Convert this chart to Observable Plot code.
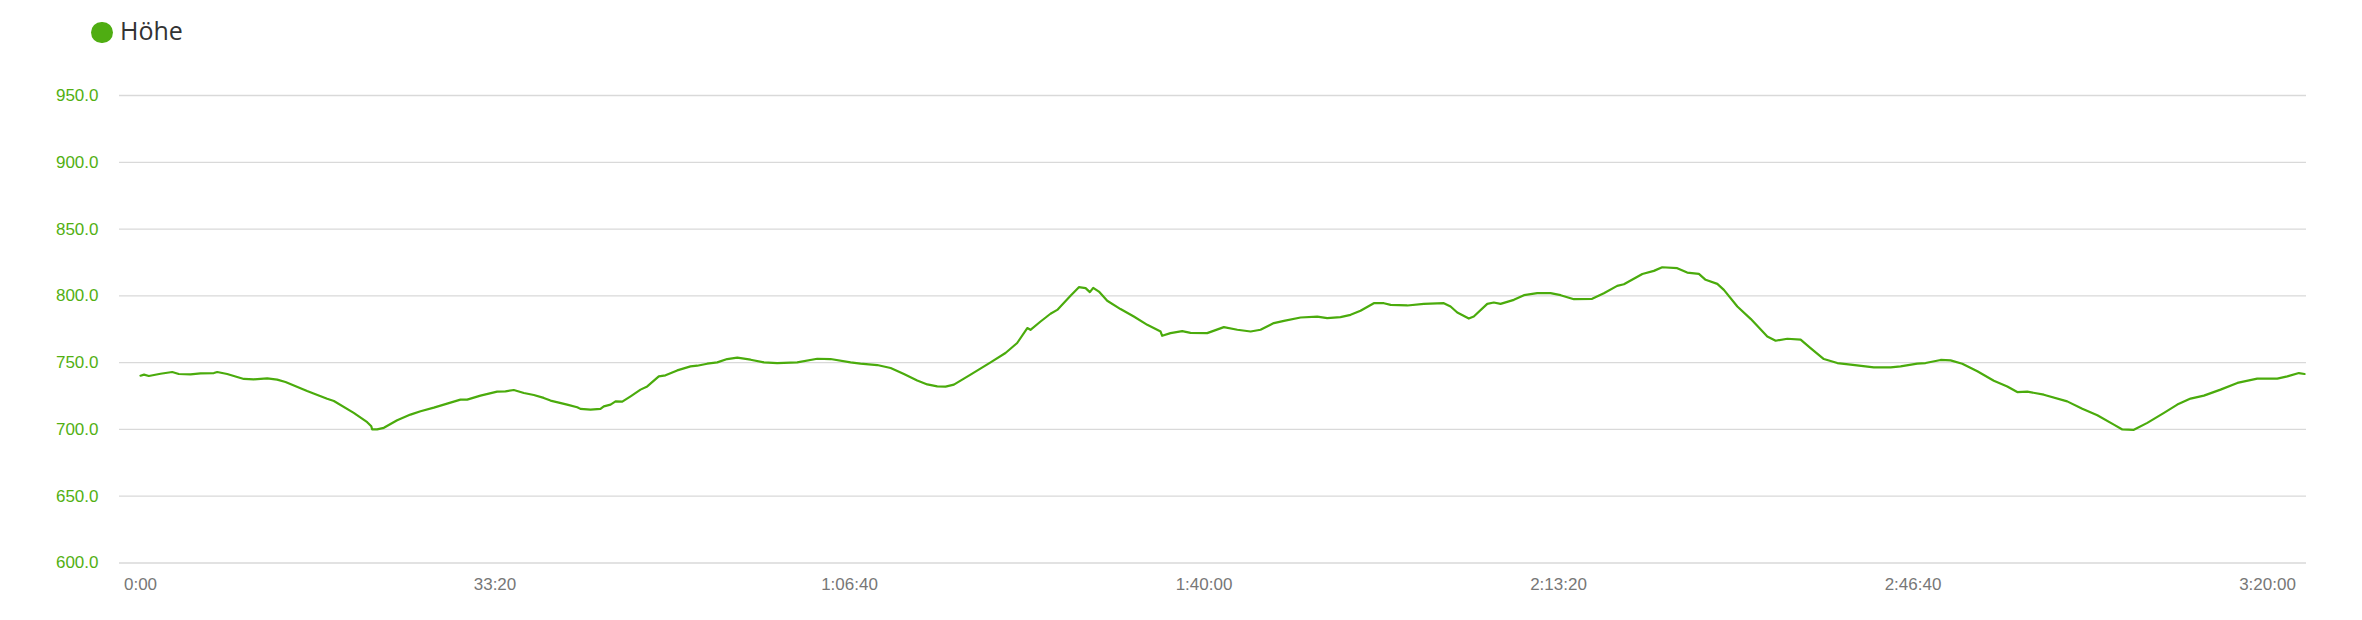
<!DOCTYPE html>
<html>
<head>
<meta charset="utf-8">
<script src="https://cdn.jsdelivr.net/npm/d3@7"></script>
<script src="https://cdn.jsdelivr.net/npm/@observablehq/plot@0.6"></script>
<style>
  html, body { margin: 0; padding: 0; background: #fff; }
  body { width: 2362px; height: 620px; overflow: hidden; }
  #legend { position: relative; height: 60px; }
  #legend .dot { position: absolute; left: 91px; top: 21.5px; width: 21.6px; height: 21.6px; border-radius: 50%; background: #4fad12; }
  #legend .lab { position: absolute; left: 120px; top: 12px; font-family: "Open Sans", sans-serif; font-size: 25px; line-height: 36px; color: #333; }
</style>
</head>
<body>
<div id="legend"><span class="dot"></span><span class="lab">Höhe</span></div>
<div id="chart"></div>
<script>
// elapsed time in seconds
const times = [0,20,47,113,179,216,282,339,414,433,489,583,639,715,771,818,940,1053,1091,1203,1279,1302,1307,1335,1373,1448,1523,1580,1655,1730,1805,1843,1918,2012,2059,2106,2163,2219,2275,2313,2407,2464,2482,2539,2595,2614,2652,2680,2718,2765,2821,2859,2924,2962,3028,3103,3141,3197,3254,3310,3367,3442,3517,3592,3705,3818,3893,4006,4062,4156,4232,4307,4382,4439,4495,4542,4589,4683,4796,4880,4946,5003,5021,5078,5134,5172,5247,5294,5332,5356,5375,5407,5454,5529,5604,5680,5755,5764,5811,5877,5924,6018,6112,6188,6263,6319,6394,6451,6545,6639,6695,6770,6827,6883,6958,7015,7053,7147,7240,7353,7391,7429,7494,7522,7598,7635,7673,7748,7805,7880,7955,8012,8087,8190,8256,8331,8369,8473,8538,8585,8670,8726,8792,8830,8896,8933,9009,9084,9178,9225,9291,9366,9422,9497,9573,9648,9779,9874,9930,10024,10071,10156,10212,10278,10363,10456,10532,10588,10645,10738,10870,10955,11040,11133,11181,11246,11322,11416,11491,11566,11641,11735,11830,11942,12055,12112,12177,12209];
// elevation in metres
const elevations = [740.2,741,740,741.7,743,741.5,741.2,742,742.2,743,741.5,737.8,737.5,738.2,737.3,735.5,728.8,723,721.3,712.4,705.4,702.4,700,700,701.2,706.9,711.1,713.6,716.3,719.3,722.3,722.3,725.3,728.3,728.5,729.5,727.3,725.8,723.6,721.6,718.6,716.6,715.4,714.8,715.4,717.3,718.6,721,720.8,724.8,729.8,732.2,739.7,740.5,744.2,747.2,747.7,749.2,750.2,752.7,753.7,752.2,750.2,749.7,750.2,752.9,752.7,750.2,749.2,748.2,746,741.5,736.7,733.7,732.2,732,733.5,741,750.2,757.2,764.7,775.9,774.6,780.8,786.6,789.5,800,806.5,805.8,802.8,806,803.2,796.3,790.1,784.5,778.3,773.3,770.1,772.1,773.6,772.3,772.1,776.6,774.6,773.3,774.6,779.6,781.3,783.8,784.5,783.3,784.1,785.8,788.8,794.5,794.5,793.3,792.8,794,794.5,792,787.5,783,784.5,794,795,794,797,800.5,802,802,800.5,797.5,797.8,802,807.5,808.7,816.4,818.7,821.4,820.7,817.4,816.4,812,809,804.5,792,782.8,769.6,766.4,767.9,767.2,760.9,752.7,749.7,748.5,746.4,746.4,747.2,749.2,749.7,752,751.7,749.2,743.5,736.5,732.2,728,728.3,726,721,715.4,710.6,703.6,700,699.7,704.9,712.4,718.6,723.1,725.3,729.8,734.8,738,738,739.7,742.2,741.5];

const yTicks = [600, 650, 700, 750, 800, 850, 900, 950];
const xTicks = [0, 2000, 4000, 6000, 8000, 10000, 12000];
const xTickLabels = ["0:00", "33:20", "1:06:40", "1:40:00", "2:13:20", "2:46:40", "3:20:00"];

const data = times.map((t, i) => ({ t, h: elevations[i] }));

const chart = Plot.plot({
  width: 2362,
  height: 560,
  marginLeft: 119,
  marginRight: 56,
  marginTop: 35,
  marginBottom: 57.5,
  style: { fontFamily: "'Liberation Sans', Arial, sans-serif", fontSize: "17px", background: "#fff" },
  x: { domain: [0, 12220], insetLeft: 21 },
  y: { domain: [600, 950] },
  marks: [
    Plot.ruleY(yTicks, { stroke: "#d9d9d9", strokeWidth: 1.3 }),
    Plot.axisY({ ticks: yTicks, tickFormat: d3.format(".1f"), tickSize: 0, tickPadding: 21, fill: "#52b012", label: null, fontSize: 17 }),
    Plot.axisX({ ticks: xTicks, tickFormat: d => xTickLabels[xTicks.indexOf(d)], tickSize: 0, tickPadding: 15, fill: "#777", label: null, fontSize: 17 }),
    Plot.line(data, { x: "t", y: "h", stroke: "#4aab0c", strokeWidth: 2.2, strokeLinejoin: "round" })
  ]
});
document.getElementById("chart").appendChild(chart);
</script>
</body>
</html>
